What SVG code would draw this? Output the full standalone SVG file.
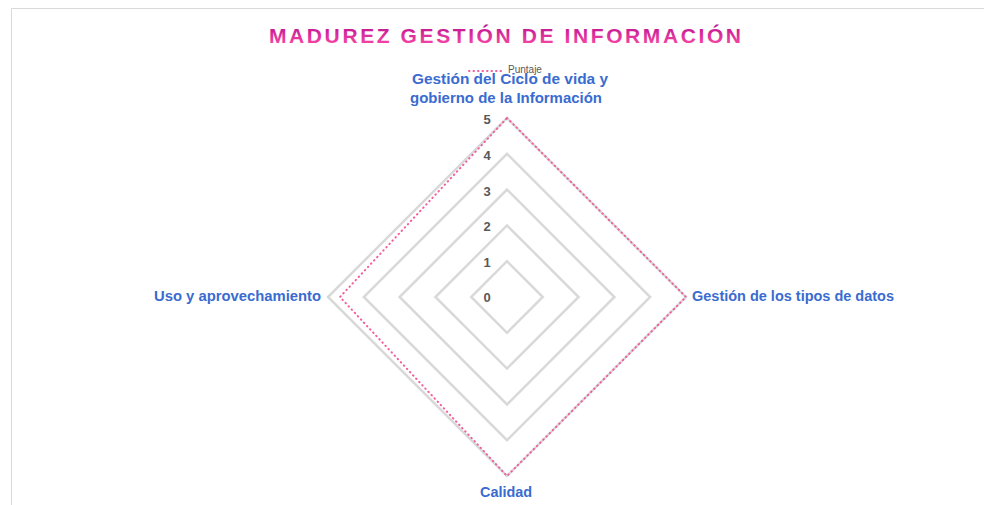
<svg xmlns="http://www.w3.org/2000/svg" width="984" height="505" viewBox="0 0 984 505">
<defs>
<linearGradient id="tg" x1="0" y1="0" x2="0" y2="1">
<stop offset="0" stop-color="#b8108f"/>
<stop offset="1" stop-color="#ff4fa8"/>
</linearGradient>
<style>
.ring{fill:none;stroke:#d9d9d9;stroke-width:2.5}
.data{fill:none;stroke:#f0609e;stroke-width:2;stroke-dasharray:0.5 4;stroke-linecap:round}
.tick{font-family:"Liberation Sans",Arial,sans-serif;font-weight:bold;font-size:13px;fill:#595959;text-anchor:middle}
.ax{font-family:"Liberation Sans",Arial,sans-serif;font-weight:bold;font-size:14px;fill:#3a6bd0}
</style>
</defs>
<rect x="0" y="0" width="984" height="505" fill="#ffffff"/>
<path d="M11.5 505 V8.5 H984" fill="none" stroke="#d9d9d9" stroke-width="1"/>
<text x="505" y="43" font-family="'Liberation Sans',Arial,sans-serif" font-weight="bold" font-size="21" fill="url(#tg)" text-anchor="middle" textLength="472" lengthAdjust="spacing">MADUREZ GESTIÓN DE INFORMACIÓN</text>
<g id="legend">
<line x1="469" y1="71" x2="505" y2="71" class="data"/>
<text x="508" y="73" font-family="'Liberation Sans',Arial,sans-serif" font-size="10" fill="#595959">Puntaje</text>
</g>
<g id="grid">
<polygon class="ring" points="507,261.2 542.8,297 507,332.8 471.2,297"/>
<polygon class="ring" points="507,225.4 578.6,297 507,368.6 435.4,297"/>
<polygon class="ring" points="507,189.6 614.4,297 507,404.4 399.6,297"/>
<polygon class="ring" points="507,153.8 650.2,297 507,440.2 363.8,297"/>
<polygon class="ring" points="507,118 686,297 507,476 328,297"/>
</g>
<g id="ticks">
<text class="tick" x="487" y="124">5</text>
<text class="tick" x="487" y="160">4</text>
<text class="tick" x="487" y="196">3</text>
<text class="tick" x="487" y="231">2</text>
<text class="tick" x="487" y="267">1</text>
<text class="tick" x="487" y="302">0</text>
</g>
<g id="connectors">
<polygon class="data" points="507,118 686,297 507,476 340,297"/>
</g>
<g id="axis-top">
<text class="ax" x="510" y="84" text-anchor="middle" textLength="196" lengthAdjust="spacingAndGlyphs">Gestión del Ciclo de vida y</text>
<text class="ax" x="506" y="103" text-anchor="middle" textLength="192" lengthAdjust="spacingAndGlyphs">gobierno de la Información</text>
</g>
<g id="axis-right">
<text class="ax" x="692" y="301" textLength="202" lengthAdjust="spacingAndGlyphs">Gestión de los tipos de datos</text>
</g>
<g id="axis-bottom">
<text class="ax" x="506" y="497" text-anchor="middle" textLength="52" lengthAdjust="spacingAndGlyphs">Calidad</text>
</g>
<g id="axis-left">
<text class="ax" x="321" y="301" text-anchor="end" textLength="167" lengthAdjust="spacingAndGlyphs">Uso y aprovechamiento</text>
</g>
</svg>
